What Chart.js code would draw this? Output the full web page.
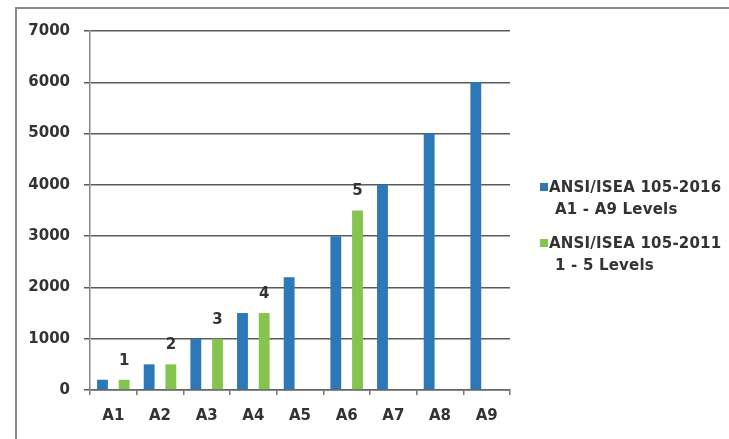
<!DOCTYPE html>
<html>
<head>
<meta charset="utf-8">
<script src="https://cdn.jsdelivr.net/npm/chart.js@4"></script>
<style>
  html, body { margin: 0; padding: 0; background: #fff; }
  #wrap { position: relative; width: 729px; height: 439px; overflow: hidden; }
  #frame {
    position: absolute; left: 15px; top: 7px; width: 720px; height: 440px;
    border-top: 2px solid #8a8a8a; border-left: 2px solid #8a8a8a;
  }
  #chart { position: absolute; left: 0; top: 0; }
  #legend {
    position: absolute; left: 540px; top: 176px;
    font: bold 15px "DejaVu Sans", sans-serif; color: #333; letter-spacing: 0.2px;
  }
  .item { position: relative; padding-left: 9px; margin-bottom: 12px; line-height: 22px; }
  .item .box { position: absolute; left: 0; top: 7px; width: 8px; height: 8px; }
  .item .l2 { padding-left: 6px; display: block; }
</style>
</head>
<body>
<div id="wrap">
  <div id="frame"></div>
  <canvas id="chart" width="729" height="439"></canvas>
  <div id="legend"></div>
</div>
<script>
// categories and values
const levels = ["A1", "A2", "A3", "A4", "A5", "A6", "A7", "A8", "A9"];
const ansi2016 = [200, 500, 1000, 1500, 2200, 3000, 4000, 5000, 6000];
const ansi2011 = [200, 500, 1000, 1500, null, 3500, null, null, null];
const ansi2011Labels = ["1", "2", "3", "4", null, "5", null, null, null];

const legendNames = [
  ["ANSI/ISEA 105-2016", "A1 - A9 Levels"],
  ["ANSI/ISEA 105-2011", "1 - 5 Levels"],
];

const BLUE = "#2d78b8";
const GREEN = "#84c44f";
const TEXT = "#333";
const FONT = { family: "'DejaVu Sans', sans-serif", size: 15, weight: "bold" };

// draws "1".."5" above the green bars
const levelLabels = {
  id: "levelLabels",
  afterDatasetsDraw(chart) {
    const meta = chart.getDatasetMeta(1);
    const ctx = chart.ctx;
    ctx.save();
    ctx.font = "bold 15px 'DejaVu Sans', sans-serif";
    ctx.fillStyle = TEXT;
    ctx.textAlign = "center";
    ctx.textBaseline = "middle";
    meta.data.forEach((bar, i) => {
      if (!ansi2011Labels[i]) return;
      ctx.fillText(ansi2011Labels[i], bar.x, bar.y - 19);
    });
    ctx.restore();
  },
};

new Chart(document.getElementById("chart"), {
  type: "bar",
  data: {
    labels: levels,
    datasets: [
      {
        label: legendNames[0].join(" "),
        data: ansi2016,
        backgroundColor: BLUE,
        categoryPercentage: 0.93,
        barPercentage: 0.5,
      },
      {
        label: legendNames[1].join(" "),
        data: ansi2011,
        backgroundColor: GREEN,
        categoryPercentage: 0.93,
        barPercentage: 0.5,
      },
    ],
  },
  options: {
    responsive: false,
    animation: false,
    layout: { padding: { left: 0, top: 31, right: 219, bottom: 0 } },
    plugins: { legend: { display: false }, tooltip: { enabled: false } },
    scales: {
      x: {
        afterFit: (s) => { s.height = 49; },
        grid: { drawOnChartArea: false, drawTicks: true, tickLength: 5, color: "#777", lineWidth: 1.5 },
        border: { color: "#666", width: 1.5 },
        ticks: { color: TEXT, font: FONT, padding: 12 },
      },
      y: {
        min: 0,
        max: 7000,
        afterFit: (s) => { s.width = 90; },
        grid: { color: "#5a5a5a", lineWidth: 1.5, tickLength: 6 },
        border: { color: "#888", width: 1.5 },
        ticks: { stepSize: 1000, color: TEXT, font: FONT, padding: 14, callback: (v) => String(v) },
      },
    },
  },
  plugins: [levelLabels],
});

// legend as html text
const legendEl = document.getElementById("legend");
[BLUE, GREEN].forEach((c, i) => {
  const item = document.createElement("div");
  item.className = "item";
  item.innerHTML = `<span class="box" style="background:${c}"></span>${legendNames[i][0]}<span class="l2">${legendNames[i][1]}</span>`;
  legendEl.appendChild(item);
});
</script>
</body>
</html>
